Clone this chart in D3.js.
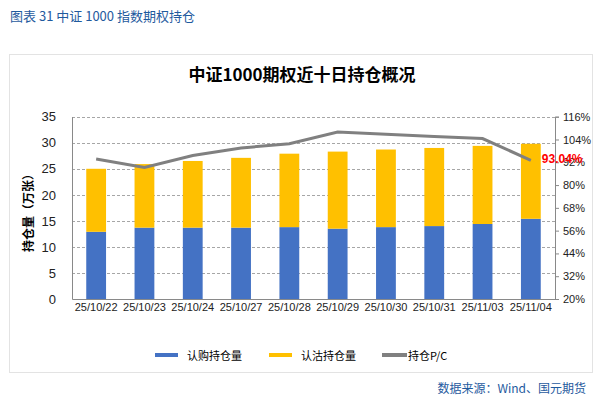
<!DOCTYPE html>
<html>
<head>
<meta charset="utf-8">
<script src="https://cdn.jsdelivr.net/npm/d3@7"></script>
<style>
  body { margin: 0; background: #fff; }
  svg text { font-family: "Liberation Sans", Arial, "Noto Sans CJK SC", sans-serif; }
</style>
</head>
<body>
<svg id="chart" width="606" height="405"></svg>
<script>
const dates = ["25/10/22", "25/10/23", "25/10/24", "25/10/27", "25/10/28", "25/10/29", "25/10/30", "25/10/31", "25/11/03", "25/11/04"];
const callOI = [12.9, 13.7, 13.7, 13.7, 13.8, 13.5, 13.8, 14.0, 14.4, 15.4];
const putOI = [12.1, 12.2, 12.8, 13.4, 14.1, 14.8, 14.9, 15.0, 15.0, 14.4];
const pcRatio = [93.7, 89.3, 95.6, 99.5, 101.8, 107.9, 106.7, 105.6, 104.5, 93.04];
const leftTicks = [0, 5, 10, 15, 20, 25, 30, 35];
const rightTicks = [20, 32, 44, 56, 68, 80, 92, 104, 116];

const svg = d3.select("#chart");
const cjk = '"Noto Sans CJK SC", sans-serif';

// header + frame
svg.append("text")
    .attr("x", 10).attr("y", 21)
    .attr("fill", "#1f5a9e")
    .attr("font-size", 13)
    .style("font-family", cjk)
    .text("图表 31  中证 1000 指数期权持仓");

svg.append("rect")
    .attr("x", 9.5).attr("y", 54.5)
    .attr("width", 583).attr("height", 318)
    .attr("fill", "none").attr("stroke", "#e3e3e3");

svg.append("text")
    .attr("x", 302).attr("y", 81)
    .attr("text-anchor", "middle")
    .attr("font-size", 17).attr("font-weight", "bold")
    .style("font-family", cjk)
    .text("中证1000期权近十日持仓概况");

const margin = {left: 72, right: 555, top: 116.7, bottom: 299};

const x = d3.scaleBand().domain(dates).range([margin.left, margin.right]).paddingInner(0.59).paddingOuter(0.295);
const y = d3.scaleLinear().domain([0, 35]).range([margin.bottom, margin.top]);
const y2 = d3.scaleLinear().domain([20, 116]).range([margin.bottom, margin.top]);

// grid
svg.append("g").selectAll("line")
    .data(leftTicks.slice(1))
    .join("line")
    .attr("x1", margin.left).attr("x2", margin.right)
    .attr("y1", d => Math.round(y(d)) + 0.5).attr("y2", d => Math.round(y(d)) + 0.5)
    .attr("stroke", "#a6a6a6").attr("stroke-dasharray", "3,2");

// bars
const stack = dates.map((d, i) => ({date: d, call: callOI[i], put: putOI[i]}));
const bars = svg.append("g");
bars.selectAll(".call").data(stack).join("rect")
    .attr("x", d => x(d.date)).attr("width", x.bandwidth())
    .attr("y", d => y(d.call)).attr("height", d => y(0) - y(d.call))
    .attr("fill", "#4472c4");
bars.selectAll(".put").data(stack).join("rect")
    .attr("x", d => x(d.date)).attr("width", x.bandwidth())
    .attr("y", d => y(d.call + d.put)).attr("height", d => y(d.call) - y(d.call + d.put))
    .attr("fill", "#ffc000");

// axes
const leftAxis = svg.append("g")
    .attr("transform", `translate(${margin.left},0)`)
    .call(d3.axisLeft(y).tickValues(leftTicks).tickSize(0).tickPadding(16));
leftAxis.select(".domain").attr("stroke", "#898989");
leftAxis.selectAll("text").attr("font-size", 13).attr("fill", "#222");

const rightAxis = svg.append("g")
    .attr("transform", `translate(${margin.right},0)`)
    .call(d3.axisRight(y2).tickValues(rightTicks).tickSize(4).tickPadding(4).tickFormat(d => d + "%"));
rightAxis.select(".domain").attr("stroke", "#898989");
rightAxis.selectAll("line").attr("stroke", "#898989");
rightAxis.selectAll("text").attr("font-size", 11).attr("fill", "#222");

const bottomAxis = svg.append("g")
    .attr("transform", `translate(0,${margin.bottom})`)
    .call(d3.axisBottom(x).tickSize(0).tickPadding(4));
bottomAxis.select(".domain").attr("stroke", "#898989");
bottomAxis.selectAll("text").attr("font-size", 11).attr("fill", "#222");

// P/C line
const line = d3.line().x((d, i) => x(dates[i]) + x.bandwidth() / 2).y(d => y2(d));
svg.append("path")
    .datum(pcRatio)
    .attr("d", line)
    .attr("fill", "none").attr("stroke", "#808080").attr("stroke-width", 3);

// label of the last point, it sits over the 92% tick like in the original
const last = pcRatio.length - 1;
svg.append("text")
    .attr("x", x(dates[last]) + x.bandwidth() / 2 + 11)
    .attr("y", y2(pcRatio[last]) + 3)
    .attr("fill", "#ff0000").attr("font-size", 12).attr("font-weight", "bold")
    .text(pcRatio[last].toFixed(2) + "%");

// y title
svg.append("text")
    .attr("transform", "translate(33,210) rotate(-90)")
    .attr("text-anchor", "middle")
    .attr("font-size", 12).attr("font-weight", "bold")
    .style("font-family", cjk)
    .text("持仓量（万张）");

// legend
const legend = [
    {name: "认购持仓量", color: "#4472c4", x: 155},
    {name: "认沽持仓量", color: "#ffc000", x: 269},
    {name: "持仓P/C", color: "#808080", x: 382}
];
const lg = svg.append("g").selectAll("g").data(legend).join("g")
    .attr("transform", d => `translate(${d.x},355)`);
lg.append("line").attr("x1", 0).attr("x2", d => d.name === "持仓P/C" ? 25 : 23)
    .attr("stroke", d => d.color).attr("stroke-width", 4);
lg.append("text")
    .attr("x", d => d.name === "持仓P/C" ? 26 : 32).attr("y", 4.5)
    .attr("font-size", 11)
    .style("font-family", cjk)
    .text(d => d.name);

svg.append("text")
    .attr("x", 586).attr("y", 393)
    .attr("text-anchor", "end")
    .attr("fill", "#1f5a9e").attr("font-size", 12)
    .style("font-family", cjk)
    .text("数据来源：Wind、国元期货");
</script>
</body>
</html>
